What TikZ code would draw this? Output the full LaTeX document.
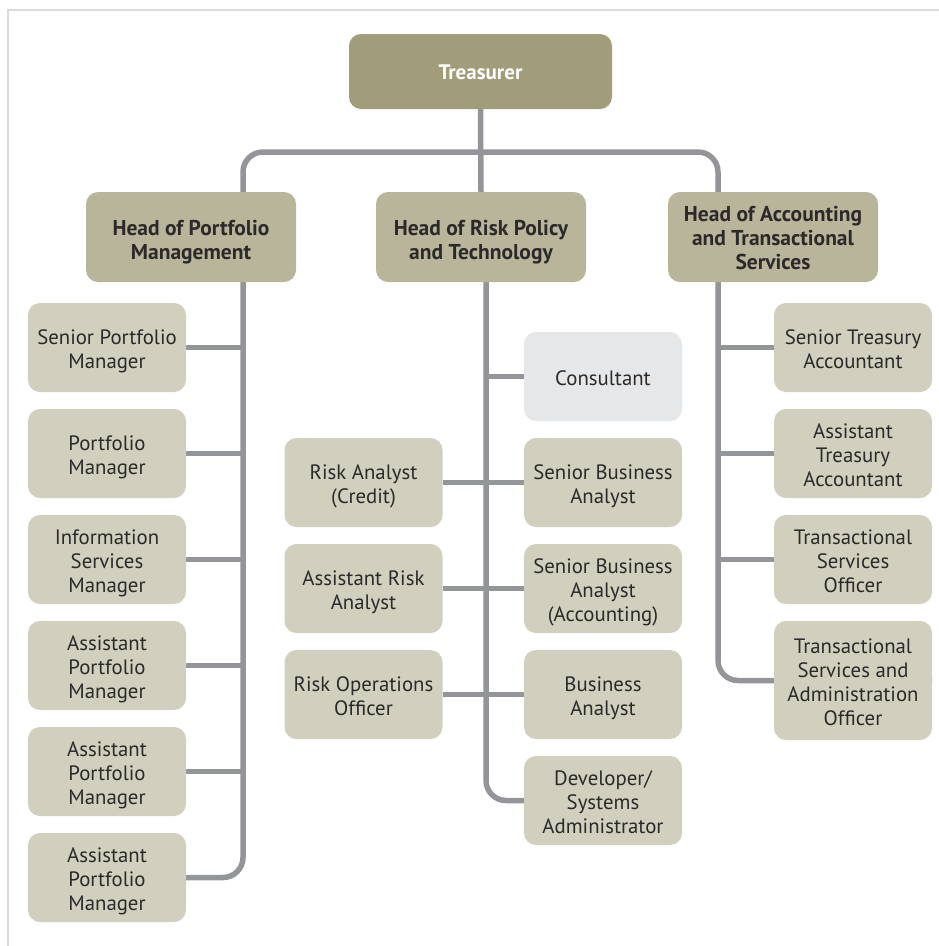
\documentclass[tikz,border=0pt]{standalone}
\usepackage{fontspec}
\setmainfont{PT Sans}
\usetikzlibrary{backgrounds}
\definecolor{topc}{HTML}{A19D7A}
\definecolor{headc}{HTML}{B8B59B}
\definecolor{boxc}{HTML}{D1CFBE}
\definecolor{consc}{HTML}{E6E7E8}
\definecolor{linec}{HTML}{939598}
\definecolor{txtc}{HTML}{2B2A29}
\definecolor{framec}{HTML}{DADADA}
\newcommand\ml[2][4pt]{\raisebox{-#1}[\height][\depth]{\begin{tabular}{@{}c@{}}#2\end{tabular}}}
\tikzset{
  base/.style={rounded corners=12pt, inner sep=0pt, text=txtc,
    font=\fontsize{20.8}{24}\selectfont},
  topbox/.style={base, fill=topc, minimum width=263pt, minimum height=75pt, text=white,
    font=\fontsize{21}{24}\selectfont\bfseries},
  headbox/.style={base, fill=headc, minimum width=210pt, minimum height=90pt,
    font=\fontsize{21.5}{24}\selectfont\bfseries},
  staff/.style={base, fill=boxc, minimum width=158pt, minimum height=89pt},
  consbox/.style={staff, fill=consc},
  conn/.style={draw=linec, line width=5.5pt}
}
\begin{document}
\begin{tikzpicture}[x=1pt,y=-1pt]
\useasboundingbox (0,0) rectangle (939,946);
\draw[framec, line width=1.5pt] (8,946) -- (8,10) -- (939,10);
% top
\node[topbox] (tr) at (480.5,71.5) {\ml[3pt]{Treasurer}};
% heads
\node[headbox] (hp) at (191,237) {\ml[6pt]{Head of Portfolio\\Management}};
\node[headbox] (hr) at (481,237) {\ml[6pt]{Head of Risk Policy\\and Technology}};
\node[headbox] (ha) at (773,237) {\ml[4pt]{Head of Accounting\\and Transactional\\Services}};
% left column
\node[staff] (spm) at (107,347.5) {\ml{Senior Portfolio\\Manager}};
\node[staff] (pm) at (107,453.5) {\ml{Portfolio\\Manager}};
\node[staff] (ism) at (107,559.5) {\ml{Information\\Services\\Manager}};
\node[staff] (apma) at (107,665.5) {\ml{Assistant\\Portfolio\\Manager}};
\node[staff] (apmb) at (107,771.5) {\ml{Assistant\\Portfolio\\Manager}};
\node[staff] (apmc) at (107,877.5) {\ml{Assistant\\Portfolio\\Manager}};
% middle column
\node[consbox] (cons) at (603,376.5) {\ml{Consultant}};
\node[staff] (sba) at (603,482.5) {\ml{Senior Business\\Analyst}};
\node[staff] (sbaa) at (603,588.5) {\ml{Senior Business\\Analyst\\(Accounting)}};
\node[staff] (ba) at (603,694.5) {\ml{Business\\Analyst}};
\node[staff] (dev) at (603,800.5) {\ml{Developer/\\Systems\\Administrator}};
\node[staff] (rac) at (363.5,482.5) {\ml{Risk Analyst\\(Credit)}};
\node[staff] (ara) at (363.5,588.5) {\ml{Assistant Risk\\Analyst}};
\node[staff] (roo) at (363.5,694.5) {\ml{Risk Operations\\Officer}};
% right column
\node[staff] (sta) at (853,347.5) {\ml{Senior Treasury\\Accountant}};
\node[staff] (ata) at (853,453.5) {\ml{Assistant\\Treasury\\Accountant}};
\node[staff] (tso) at (853,559.5) {\ml{Transactional\\Services\\Officer}};
\node[staff, minimum height=119pt] (tsao) at (853,680.5) {\ml{Transactional\\Services and\\Administration\\Officer}};
% coordinates
\coordinate (busL) at (243,152);
\coordinate (busR) at (718,152);
\coordinate (midtop) at (486,282);
\begin{scope}[on background layer]
\draw[conn] (tr.south) -- (hr.north);
\draw[conn, rounded corners=20pt] (apmc.east) -| (busL) -- (busR) |- (tsao.east);
\draw[conn, rounded corners=20pt] (midtop) |- (dev.west);
\foreach \n in {spm,pm,ism,apma,apmb}
  \draw[conn] (\n.east) -- (\n.east -| busL);
\foreach \n in {sta,ata,tso}
  \draw[conn] (\n.west) -- (\n.west -| busR);
\draw[conn] (cons.west) -- (cons.west -| midtop);
\draw[conn] (rac.east) -- (sba.west);
\draw[conn] (ara.east) -- (sbaa.west);
\draw[conn] (roo.east) -- (ba.west);
\end{scope}
\end{tikzpicture}
\end{document}
